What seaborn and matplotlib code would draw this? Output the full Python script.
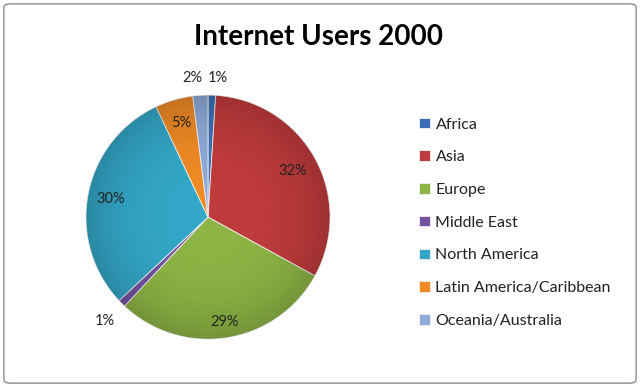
import numpy as np
import matplotlib
matplotlib.use('Agg')
import matplotlib.pyplot as plt
import seaborn as sns
from matplotlib.patches import FancyBboxPatch, Circle

# data
regions = ['Africa', 'Asia', 'Europe', 'Middle East', 'North America',
           'Latin America/Caribbean', 'Oceania/Australia']
shares = [1, 32, 29, 1, 30, 5, 2]
colors = ['#3a6fb5', '#c03b3c', '#8db545', '#7452a0', '#33a7c7', '#ef8a25', '#8eaad8']

sns.set_theme(style='white')
plt.rcParams['font.family'] = ['Lato', 'DejaVu Sans']

fig = plt.figure(figsize=(6.4, 3.87), dpi=100)

# outer chart frame
frame = FancyBboxPatch((0.006, 0.01), 0.988, 0.98, boxstyle='round,pad=0,rounding_size=0.01',
                       transform=fig.transFigure, facecolor='none', edgecolor='#8a8a8a',
                       lw=1.0, zorder=5)
fig.patches.append(frame)

# pie axes: centre ~(208, 217) px, radius ~122 px
ax = fig.add_axes([0.039, -0.034, 0.572, 0.946])
wedges, _ = ax.pie(shares, colors=colors, startangle=90, counterclock=False,
                   wedgeprops=dict(edgecolor='#f2f2f2', linewidth=0.6))
ax.set_xlim(-1.5, 1.5)
ax.set_ylim(-1.5, 1.5)
ax.set_aspect('equal')
ax.axis('off')

# soft shading towards the rim, like the office bevel style
g = np.linspace(-1, 1, 300)
xx, yy = np.meshgrid(g, g)
rr = np.sqrt(xx ** 2 + yy ** 2)
shade = np.zeros((300, 300, 4))
shade[..., 3] = np.clip(rr, 0, 1) ** 3 * 0.18
im = ax.imshow(shade, extent=(-1, 1, -1, 1), origin='lower', zorder=3)
im.set_clip_path(Circle((0, 0), 1, transform=ax.transData))

# percentage labels
label_r = {'Asia': 0.79, 'Europe': 0.87, 'North America': 0.81, 'Latin America/Caribbean': 0.8}
for i, w in enumerate(wedges):
    ang = np.deg2rad((w.theta1 + w.theta2) / 2)
    if regions[i] in label_r:
        r = label_r[regions[i]]
        x, y = r * np.cos(ang), r * np.sin(ang)
    else:
        r = 1.2
        x, y = r * np.cos(ang), r * np.sin(ang)
        if regions[i] == 'Africa':
            x, y = 0.08, 1.14
        elif regions[i] == 'Oceania/Australia':
            x, y = -0.13, 1.14
    ax.text(x, y, f'{shares[i]}%', ha='center', va='center', fontsize=10.5,
            color='#222222', zorder=4)

fig.text(0.497, 0.905, 'Internet Users 2000', ha='center', va='center',
         fontsize=20, fontweight='bold', color='black')

fig.legend(wedges, regions, loc='upper left', bbox_to_anchor=(0.633, 0.733),
           frameon=False, fontsize=11.5, handlelength=0.65, handleheight=0.65,
           handletextpad=0.35, labelspacing=1.17, labelcolor='#222222')

fig.savefig('out.png', dpi=100)
